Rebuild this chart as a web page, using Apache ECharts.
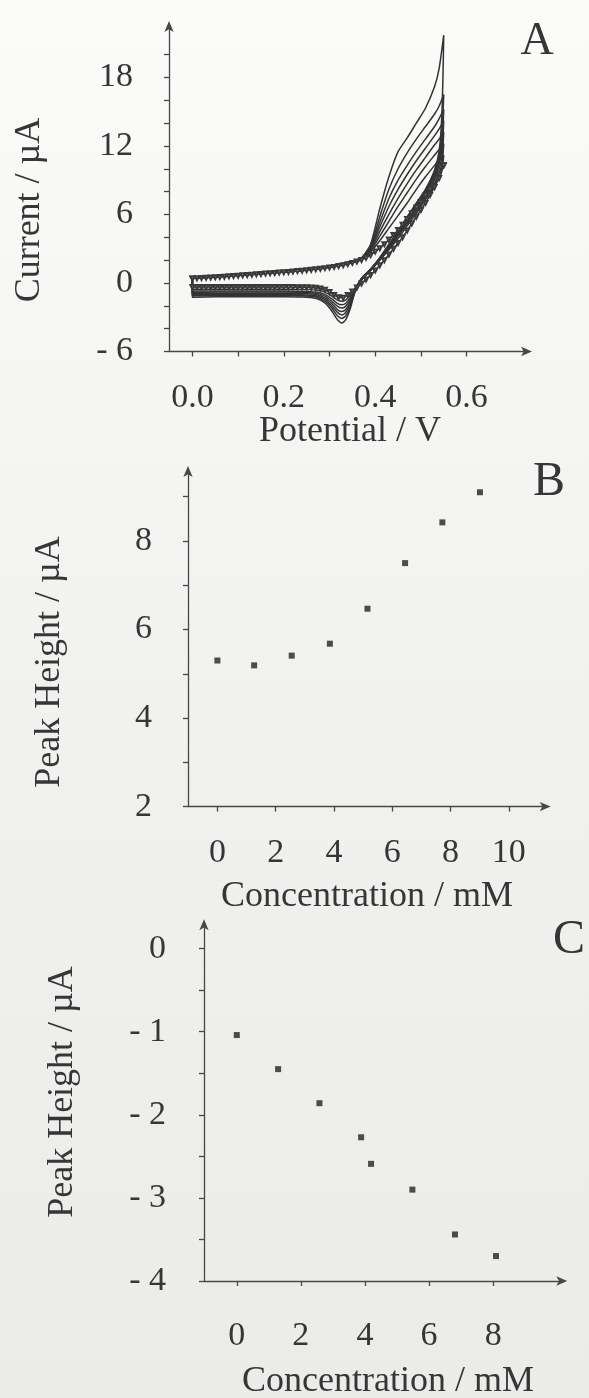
<!DOCTYPE html>
<html><head><meta charset="utf-8">
<script src="https://cdn.jsdelivr.net/npm/echarts@6/dist/echarts.min.js"></script>
<style>html,body{margin:0;padding:0;background:#f3f3f1}#c{width:589px;height:1398px}</style>
</head><body><div id="c"></div><script>
// ---------- Panel A: cyclic voltammograms (E in V, I in µA) ----------
// fine-sampled lowest curve (drawn with markers)
const CV0_E = [0.00,0.01,0.02,0.03,0.04,0.05,0.06,0.07,0.08,0.09,0.10,0.11,0.12,0.13,0.14,0.15,0.16,0.17,0.18,0.19,0.20,0.21,0.22,0.23,0.24,0.25,0.26,0.27,0.28,0.29,0.30,0.31,0.32,0.33,0.34,0.35,0.36,0.37,0.38,0.39,0.40,0.41,0.42,0.43,0.44,0.45,0.46,0.47,0.48,0.49,0.50,0.51,0.52,0.53,0.54,0.55];
const CV0_FWD = [0.40,0.42,0.44,0.46,0.48,0.50,0.52,0.55,0.58,0.61,0.64,0.67,0.70,0.73,0.76,0.79,0.82,0.85,0.88,0.91,0.94,0.97,1.00,1.04,1.08,1.12,1.16,1.20,1.25,1.30,1.35,1.41,1.48,1.56,1.65,1.76,1.88,2.02,2.20,2.45,2.75,3.05,3.40,3.80,4.20,4.65,5.10,5.60,6.10,6.60,7.10,7.65,8.20,8.80,9.50,10.30];
// reverse sweep, listed from 0.55 V back to 0.00 V
const CV0_REV = [10.30,9.20,8.40,7.70,7.00,6.40,5.80,5.20,4.60,4.00,3.50,3.00,2.50,2.00,1.55,1.10,0.70,0.30,-0.05,-0.40,-0.75,-1.05,-1.30,-1.25,-1.05,-0.80,-0.60,-0.48,-0.42,-0.40,-0.38,-0.37,-0.37,-0.36,-0.36,-0.36,-0.35,-0.35,-0.35,-0.35,-0.35,-0.35,-0.35,-0.35,-0.35,-0.35,-0.35,-0.35,-0.35,-0.35,-0.35,-0.35,-0.35,-0.35,-0.35,-0.35];

// coarse-sampled curves
const E_FWD = [0.00,0.05,0.10,0.15,0.20,0.25,0.30,0.34,0.37,0.39,0.41,0.43,0.45,0.47,0.49,0.51,0.53,0.54,0.55];
const E_REV = [0.55,0.548,0.545,0.54,0.53,0.51,0.49,0.47,0.45,0.43,0.41,0.39,0.37,0.355,0.345,0.335,0.327,0.318,0.305,0.29,0.27,0.24,0.20,0.15,0.10,0.05,0.00];

const CV1_FWD = [0.42,0.54,0.67,0.81,0.96,1.14,1.39,1.70,2.05,2.7,3.7,4.8,5.9,7.0,8.2,9.3,10.3,10.8,11.2];
const CV1_REV = [11.2,10.4,9.8,9.2,8.5,7.3,6.1,5.0,3.9,2.9,2.0,1.1,0.3,-0.5,-1.1,-1.5,-1.6,-1.5,-1.15,-0.8,-0.62,-0.56,-0.55,-0.55,-0.55,-0.55,-0.55];
const CV2_FWD = [0.44,0.56,0.69,0.83,0.98,1.16,1.41,1.72,2.08,2.8,4.1,5.4,6.7,7.9,9.1,10.2,11.2,11.7,12.2];
const CV2_REV = [12.2,11.1,10.3,9.6,8.8,7.5,6.3,5.2,4.1,3.0,2.0,1.1,0.3,-0.6,-1.3,-1.8,-1.9,-1.8,-1.4,-1.0,-0.8,-0.72,-0.7,-0.7,-0.7,-0.7,-0.7];
const CV3_FWD = [0.46,0.58,0.70,0.84,0.99,1.17,1.42,1.74,2.10,2.9,4.5,6.0,7.4,8.7,9.9,11.0,12.1,12.6,13.2];
const CV3_REV = [13.2,11.8,10.8,10.0,9.1,7.7,6.5,5.3,4.2,3.1,2.1,1.2,0.3,-0.7,-1.5,-2.05,-2.2,-2.05,-1.6,-1.15,-0.9,-0.82,-0.8,-0.8,-0.8,-0.8,-0.82];
const CV4_FWD = [0.47,0.59,0.71,0.85,1.00,1.18,1.44,1.76,2.12,3.0,4.9,6.7,8.2,9.5,10.7,11.8,12.9,13.5,14.2];
const CV4_REV = [14.2,12.6,11.4,10.4,9.3,7.9,6.7,5.5,4.3,3.2,2.1,1.2,0.3,-0.7,-1.7,-2.35,-2.5,-2.35,-1.8,-1.3,-1.0,-0.92,-0.9,-0.9,-0.9,-0.9,-0.92];
const CV5_FWD = [0.48,0.60,0.72,0.86,1.01,1.19,1.45,1.78,2.15,3.1,5.3,7.4,9.0,10.3,11.5,12.6,13.7,14.4,15.2];
const CV5_REV = [15.2,13.4,12.0,10.8,9.5,8.0,6.8,5.6,4.4,3.3,2.2,1.2,0.4,-0.8,-1.9,-2.6,-2.8,-2.6,-2.0,-1.45,-1.12,-1.02,-1.0,-1.0,-1.0,-1.0,-1.02];
const CV6_FWD = [0.49,0.61,0.73,0.87,1.02,1.20,1.46,1.80,2.18,3.2,5.8,8.2,10.0,11.4,12.6,13.7,14.8,15.5,16.5];
const CV6_REV = [16.5,14.5,12.7,11.2,9.7,8.1,6.9,5.7,4.5,3.3,2.2,1.2,0.4,-0.8,-2.1,-2.9,-3.1,-2.9,-2.2,-1.6,-1.23,-1.12,-1.1,-1.1,-1.1,-1.1,-1.12];
const CV7_FWD = [0.50,0.62,0.74,0.88,1.03,1.21,1.47,1.82,2.20,3.4,6.5,9.3,11.5,12.7,14.0,15.3,17.2,18.8,21.7];
const CV7_REV = [21.7,17.5,14.0,11.6,9.9,8.2,7.0,5.8,4.6,3.4,2.2,1.2,0.4,-0.9,-2.3,-3.25,-3.5,-3.25,-2.45,-1.75,-1.35,-1.23,-1.2,-1.2,-1.2,-1.2,-1.25];

const A_XTICKS = [0,0.1,0.2,0.3,0.4,0.5,0.6];
const A_XLABELS = [0,0.2,0.4,0.6];
const A_YTICKS = [-6,-4,-2,0,2,4,6,8,10,12,14,16,18,20];
const A_YLABELS = [-6,0,6,12,18];

// ---------- Panel B ----------
const B_CONC = [0,1.26,2.55,3.86,5.15,6.44,7.72,9.01];
const B_PEAK = [5.30,5.19,5.41,5.68,6.47,7.50,8.42,9.10];
const B_XTICKS = [0,2,4,6,8,10];
const B_YTICKS = [2,3,4,5,6,7,8,9];
const B_YLABELS = [2,4,6,8];

// ---------- Panel C ----------
const C_CONC = [0,1.29,2.58,3.88,4.19,5.48,6.81,8.09];
const C_PEAK = [-1.04,-1.45,-1.86,-2.27,-2.59,-2.90,-3.44,-3.70];
const C_XTICKS = [0,2,4,6,8];
const C_YTICKS = [-4,-3.5,-3,-2.5,-2,-1.5,-1,-0.5,0];
const C_YLABELS = [-4,-3,-2,-1,0];

// ---------- helpers ----------
const FONT = '"Liberation Serif","Times New Roman",serif';
const INK = '#363636';
const AXC = '#474747';
function negFmt(v){ return v < 0 ? '- ' + Math.abs(v) : String(v); }
function loop(eF, iF, eR, iR){
  const d = [];
  for (let i = 0; i < eF.length; i++) d.push([eF[i], iF[i]]);
  for (let i = 0; i < eR.length; i++) d.push([eR[i], iR[i]]);
  d.push([eF[0], iF[0]]);
  return d;
}
function ax(idx, min, max, ticks, labels, fmt, margin){
  return {gridIndex: idx, type: 'value', min: min, max: max,
    axisLine: {show: true, onZero: false, symbol: ['none','arrow'], symbolSize: [7,11], symbolOffset: [0,4],
      lineStyle: {color: AXC, width: 1.3}},
    axisTick: {show: true, inside: false, length: 5, customValues: ticks, lineStyle: {color: AXC, width: 1.3}},
    axisLabel: {customValues: labels, formatter: fmt, margin: margin, color: INK, fontSize: 34, fontFamily: FONT},
    splitLine: {show: false}};
}
function txt(x, y, s, size, rot){
  return {type: 'text', x: x, y: y, rotation: rot || 0,
    style: {text: s, fill: INK, font: size + 'px ' + FONT, align: 'center', verticalAlign: 'middle'}};
}

const cvCoarse = [[CV1_FWD,CV1_REV],[CV2_FWD,CV2_REV],[CV3_FWD,CV3_REV],[CV4_FWD,CV4_REV],
                  [CV5_FWD,CV5_REV],[CV6_FWD,CV6_REV],[CV7_FWD,CV7_REV]];
const CV0_EREV = CV0_E.slice().reverse();

const series = [];
cvCoarse.forEach(function(c){
  series.push({type: 'line', xAxisIndex: 0, yAxisIndex: 0, data: loop(E_FWD, c[0], E_REV, c[1]),
    showSymbol: false, smooth: 0.2, lineStyle: {color: '#333', width: 1.5}, silent: true, animation: false});
});
series.push({type: 'line', xAxisIndex: 0, yAxisIndex: 0, data: loop(CV0_E, CV0_FWD, CV0_EREV, CV0_REV),
  showSymbol: true, symbol: 'emptyTriangle', symbolRotate: 180, symbolSize: 4,
  itemStyle: {color: '#3a3a3a', borderWidth: 0.9}, lineStyle: {color: '#333', width: 1.5}, animation: false});
series.push({type: 'scatter', xAxisIndex: 1, yAxisIndex: 1, data: B_CONC.map(function(c,i){return [c, B_PEAK[i]];}),
  symbol: 'rect', symbolSize: 6, itemStyle: {color: '#222'}, animation: false});
series.push({type: 'scatter', xAxisIndex: 2, yAxisIndex: 2, data: C_CONC.map(function(c,i){return [c, C_PEAK[i]];}),
  symbol: 'rect', symbolSize: 6, itemStyle: {color: '#222'}, animation: false});

const chart = echarts.init(document.getElementById('c'), null, {renderer: 'canvas'});
chart.setOption({
  animation: false,
  backgroundColor: new echarts.graphic.LinearGradient(0,0,0,1,[{offset:0,color:'#fbfbfa'},{offset:0.5,color:'#f1f1f0'},{offset:1,color:'#ebebe9'}]),
  grid: [
    {left: 169, top: 25, width: 359, height: 326.5},
    {left: 188, top: 470, width: 358.7, height: 336.6},
    {left: 204, top: 923.3, width: 359.3, height: 357.7}
  ],
  xAxis: [
    ax(0, -0.0512, 0.7344, A_XTICKS, A_XLABELS, function(v){return v.toFixed(1);}, 30),
    ax(1, -1.009, 11.30, B_XTICKS, B_XTICKS, function(v){return String(v);}, 29),
    ax(2, -1.023, 10.19, C_XTICKS, C_XTICKS, function(v){return String(v);}, 38)
  ],
  yAxis: [
    ax(0, -6, 22.59, A_YTICKS, A_YLABELS, negFmt, 36),
    ax(1, 2, 9.603, B_YTICKS, B_YLABELS, negFmt, 36),
    ax(2, -4, 0.305, C_YTICKS, C_YLABELS, negFmt, 38)
  ],
  series: series,
  graphic: [
    txt(537, 42, 'A', 46),
    txt(549, 482, 'B', 48),
    txt(569, 940, 'C', 48),
    txt(30, 210, 'Current / µA', 36, Math.PI/2),
    txt(50, 662, 'Peak Height / µA', 36, Math.PI/2),
    txt(63, 1092, 'Peak Height / µA', 36, Math.PI/2),
    txt(350, 432, 'Potential / V', 36),
    txt(367, 897, 'Concentration / mM', 36),
    txt(388, 1382, 'Concentration / mM', 36)
  ]
});
</script></body></html>
